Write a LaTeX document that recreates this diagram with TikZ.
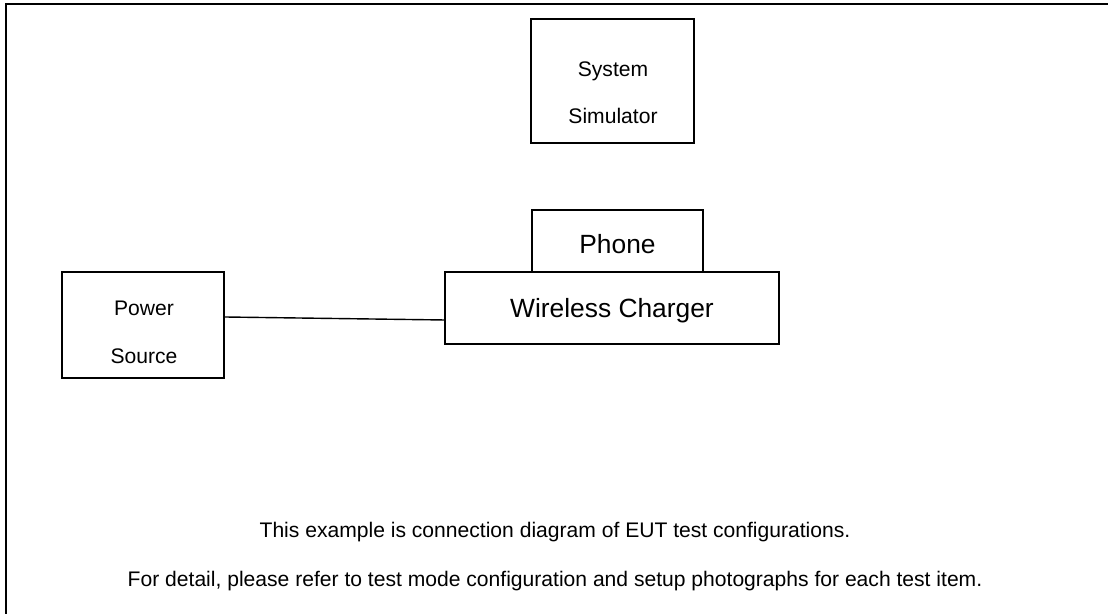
\documentclass[tikz,border=0pt]{standalone}
\usepackage{fontspec}
\setmainfont{Liberation Sans}
\begin{document}
\begin{tikzpicture}[box/.style={draw, line width=0.6pt, inner sep=0pt},
    txt/.style={align=center, font=\fontsize{12}{27}\selectfont},
    bigtxt/.style={font=\fontsize{15}{18}\selectfont, text height=14pt}]
\useasboundingbox (0,0) rectangle (22.16,12.28);
\draw[line width=1.2pt](0.12,0)--(0.12,12.2)--(22.16,12.2);

\node[box, minimum width=3.26cm, minimum height=2.48cm](sim) at (12.25,10.66){};
\node[txt](simtxt) at (12.26,10.42){System\\Simulator};

\node[box, minimum width=3.42cm, minimum height=1.24cm, bigtxt, text depth=0pt](phone) at (12.35,7.46){Phone};
\node[box, minimum width=6.68cm, minimum height=1.44cm, bigtxt, text depth=3.2pt](wc) at (12.24,6.12){Wireless Charger};

\node[box, minimum width=3.24cm, minimum height=2.12cm](ps) at (2.86,5.78){};
\node[txt](pstxt) at (2.88,5.63){Power\\Source};

\draw[line width=0.8pt]([yshift=0.16cm]ps.east)--([yshift=-0.24cm]wc.west);

\node[align=center, font=\fontsize{12}{28}\selectfont](note) at (11.1,1.15)
    {This example is connection diagram of EUT test configurations.\\
     For detail, please refer to test mode configuration and setup photographs for each test item.};
\end{tikzpicture}
\end{document}
